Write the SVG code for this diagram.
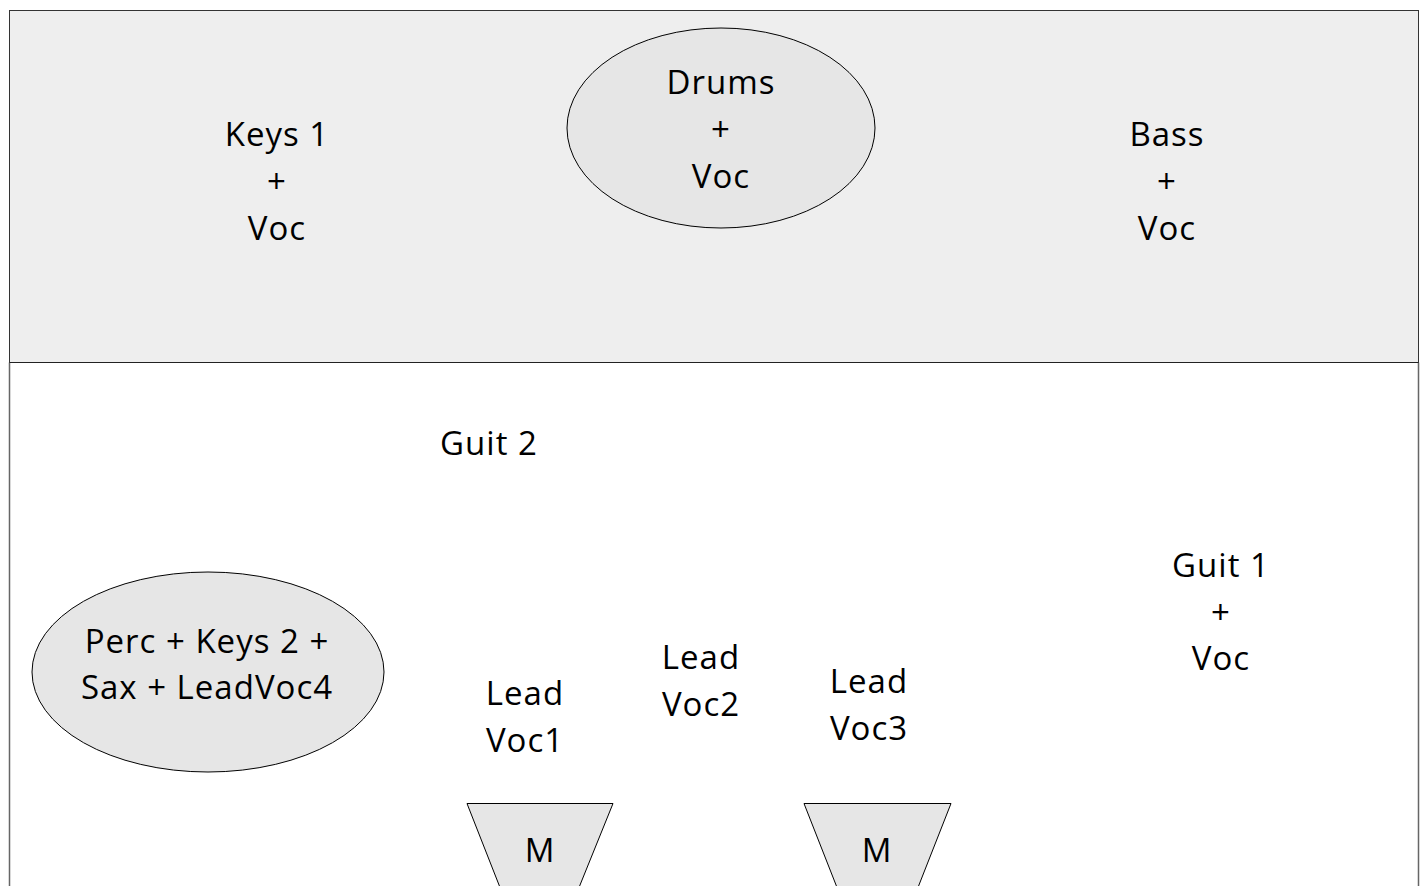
<svg xmlns="http://www.w3.org/2000/svg" width="1425" height="886" viewBox="0 0 1425 886">
<style>
text{font-family:"Open Sans","Noto Sans","Liberation Sans",sans-serif;font-size:33px;fill:#000;text-anchor:middle;letter-spacing:1px}
.shape{fill:#e6e6e6;stroke:#000;stroke-width:1}
</style>
<rect width="1425" height="886" fill="#ffffff"/>
<g id="stage-back">
<rect x="9.5" y="10.5" width="1409" height="352" fill="#eeeeee" stroke="#333" stroke-width="1"/>
</g>
<g id="stage-front">
<path d="M9.5 362.5 V890 M1418.5 362.5 V890" fill="none" stroke="#666" stroke-width="1.5"/>
<line x1="9.5" y1="362.5" x2="1418.5" y2="362.5" stroke="#222" stroke-width="1"/>
</g>
<g id="connectors"></g>
<g id="keys1">
<text x="277" y="146">Keys 1</text>
<text x="277" y="193">+</text>
<text x="277" y="240">Voc</text>
</g>
<g id="drums">
<ellipse class="shape" cx="721" cy="128" rx="154" ry="100"/>
<text x="721" y="94">Drums</text>
<text x="721" y="141">+</text>
<text x="721" y="188">Voc</text>
</g>
<g id="bass">
<text x="1167" y="146">Bass</text>
<text x="1167" y="193">+</text>
<text x="1167" y="240">Voc</text>
</g>
<g id="guit2">
<text x="489" y="455">Guit 2</text>
</g>
<g id="guit1">
<text x="1221" y="577">Guit 1</text>
<text x="1221" y="623.5">+</text>
<text x="1221" y="670">Voc</text>
</g>
<g id="perc">
<ellipse class="shape" cx="208" cy="672" rx="176" ry="100"/>
<text x="207" y="653">Perc + Keys 2 +</text>
<text x="207" y="699">Sax + LeadVoc4</text>
</g>
<g id="leadvoc1">
<text x="525" y="705">Lead</text>
<text x="525" y="752">Voc1</text>
</g>
<g id="leadvoc2">
<text x="701" y="669">Lead</text>
<text x="701" y="716">Voc2</text>
</g>
<g id="leadvoc3">
<text x="869" y="693">Lead</text>
<text x="869" y="740">Voc3</text>
</g>
<g id="monitor1">
<polygon class="shape" points="467,803.5 613,803.5 578,890 501,890"/>
<text x="540" y="862">M</text>
</g>
<g id="monitor2">
<polygon class="shape" points="804,803.5 951,803.5 917,890 838,890"/>
<text x="877" y="862">M</text>
</g>
</svg>
